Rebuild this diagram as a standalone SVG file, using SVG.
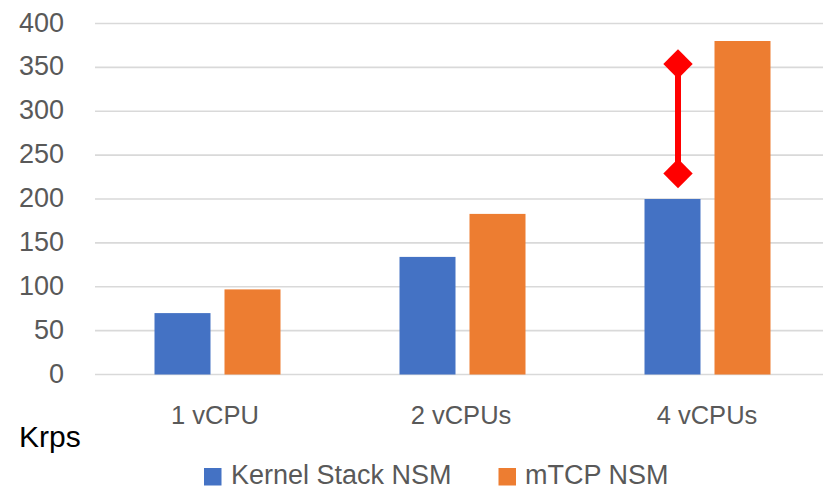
<svg xmlns="http://www.w3.org/2000/svg" width="823" height="489" viewBox="0 0 823 489">
<style>
.grid{stroke:#d9d9d9;stroke-width:1.6;fill:none}
.tick{font-family:"Liberation Sans",Arial,sans-serif;font-size:27px;fill:#595959;text-anchor:end}
.cat{font-family:"Liberation Sans",Arial,sans-serif;font-size:25.5px;fill:#595959;text-anchor:middle}
.leg{font-family:"Liberation Sans",Arial,sans-serif;font-size:27px;fill:#595959}
.blue{fill:#4472c4}
.orange{fill:#ed7d31}
.red{fill:#ff0000}
</style>
<rect width="823" height="489" fill="#ffffff"/>
<g id="gridlines">
<line class="grid" x1="95" y1="23.5" x2="823" y2="23.5"/>
<line class="grid" x1="95" y1="67.4" x2="823" y2="67.4"/>
<line class="grid" x1="95" y1="111.25" x2="823" y2="111.25"/>
<line class="grid" x1="95" y1="155.1" x2="823" y2="155.1"/>
<line class="grid" x1="95" y1="199" x2="823" y2="199"/>
<line class="grid" x1="95" y1="242.9" x2="823" y2="242.9"/>
<line class="grid" x1="95" y1="286.75" x2="823" y2="286.75"/>
<line class="grid" x1="95" y1="330.6" x2="823" y2="330.6"/>
<line class="grid" x1="95" y1="374.5" x2="823" y2="374.5"/>
</g>
<g id="y-axis">
<text class="tick" x="64" y="31.5">400</text>
<text class="tick" x="64" y="75.4">350</text>
<text class="tick" x="64" y="119.25">300</text>
<text class="tick" x="64" y="163.1">250</text>
<text class="tick" x="64" y="207">200</text>
<text class="tick" x="64" y="250.9">150</text>
<text class="tick" x="64" y="294.75">100</text>
<text class="tick" x="64" y="338.6">50</text>
<text class="tick" x="64" y="382.5">0</text>
</g>
<g id="bars">
<rect class="blue" x="154.5" y="313.1" width="56" height="61.4"/>
<rect class="orange" x="224.5" y="289.4" width="56" height="85.1"/>
<rect class="blue" x="399.5" y="256.9" width="56" height="117.6"/>
<rect class="orange" x="469.5" y="213.9" width="56" height="160.6"/>
<rect class="blue" x="644.5" y="199" width="56" height="175.5"/>
<rect class="orange" x="714.5" y="41" width="56" height="333.5"/>
</g>
<g id="categories">
<text class="cat" x="215" y="423.5">1 vCPU</text>
<text class="cat" x="461" y="423.5">2 vCPUs</text>
<text class="cat" x="707" y="423.5">4 vCPUs</text>
</g>
<g id="axis-title">
<text x="19" y="446.5" font-family="'Liberation Sans',Arial,sans-serif" font-size="30" fill="#000000">Krps</text>
</g>
<g id="connectors">
<line x1="678" y1="64" x2="678" y2="173.5" stroke="#ff0000" stroke-width="6"/>
<polygon class="red" points="678,49.3 692.7,64 678,78.7 663.3,64"/>
<polygon class="red" points="678,158.8 692.7,173.5 678,188.2 663.3,173.5"/>
</g>
<g id="legend">
<rect class="blue" x="204" y="468" width="17.5" height="17.5"/>
<text class="leg" x="231" y="483.5">Kernel Stack NSM</text>
<rect class="orange" x="498.5" y="468" width="17.5" height="17.5"/>
<text class="leg" x="525" y="483.5">mTCP NSM</text>
</g>
</svg>
